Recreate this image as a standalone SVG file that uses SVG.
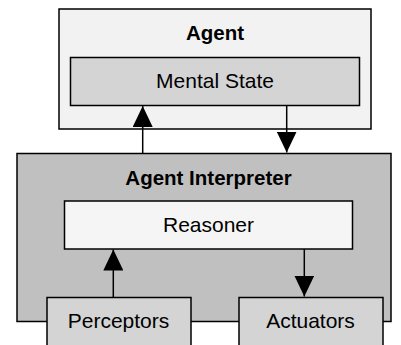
<svg xmlns="http://www.w3.org/2000/svg" width="401" height="345" viewBox="0 0 401 345">
<style>
.box{stroke:#000;stroke-width:1.5}
.t{font-family:"Liberation Sans",Arial,sans-serif;font-size:21px;text-anchor:middle;fill:#000}
.b{font-weight:bold;font-size:20.5px}
.c{stroke:#000;stroke-width:1.5;fill:none}
</style>
<defs>
<marker id="ah" markerUnits="userSpaceOnUse" markerWidth="22" markerHeight="20" refX="21" refY="10" orient="auto" viewBox="0 0 22 20">
<path d="M0,0 L21,10 L0,20 z" fill="#000"/>
</marker>
</defs>
<rect width="401" height="345" fill="#fff"/>
<g id="agent">
<rect class="box" x="59" y="9" width="312" height="120" fill="#f2f2f2"/>
<text class="t b" x="215" y="39.5">Agent</text>
</g>
<g id="mental-state">
<rect class="box" x="70.5" y="57.5" width="289" height="48" fill="#d4d4d4"/>
<text class="t" x="215" y="87.5">Mental State</text>
</g>
<g id="agent-interpreter">
<rect class="box" x="17" y="153.5" width="374" height="168" fill="#c0c0c0"/>
<text class="t b" x="208.5" y="184.5">Agent Interpreter</text>
</g>
<g id="reasoner">
<rect class="box" x="64.5" y="201" width="288" height="48" fill="#f5f5f5"/>
<text class="t" x="208.5" y="232">Reasoner</text>
</g>
<g id="perceptors">
<rect class="box" x="47" y="297.5" width="144" height="60" fill="#d4d4d4"/>
<text class="t" x="118.5" y="327.5">Perceptors</text>
</g>
<g id="actuators">
<rect class="box" x="239" y="297.5" width="144" height="60" fill="#d4d4d4"/>
<text class="t" x="310.5" y="327.5">Actuators</text>
</g>
<g id="connectors">
<line class="c" x1="142.7" y1="153.5" x2="142.7" y2="106" marker-end="url(#ah)"/>
<line class="c" x1="286.7" y1="105.5" x2="286.7" y2="152.5" marker-end="url(#ah)"/>
<line class="c" x1="113.3" y1="297.5" x2="113.3" y2="249.5" marker-end="url(#ah)"/>
<line class="c" x1="304.3" y1="249" x2="304.3" y2="296.5" marker-end="url(#ah)"/>
</g>
</svg>
